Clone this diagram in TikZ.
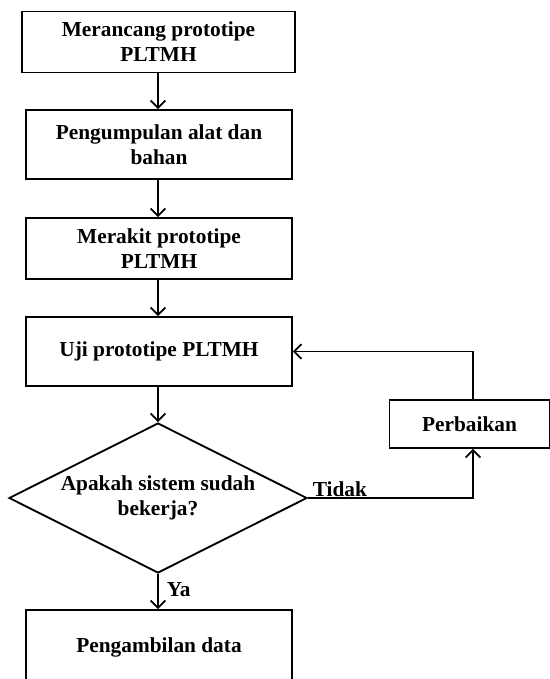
\documentclass[tikz,border=0pt]{standalone}
\usepackage{fontspec}
\setmainfont{Liberation Serif}
\usetikzlibrary{shapes.geometric, arrows.meta}

\begin{document}
\begin{tikzpicture}[x=0.75pt, y=-0.75pt, line width=1.4pt,
    >={Straight Barb[length=5.5pt, width=11pt, line width=1.3pt]},
    txt/.style={font=\fontsize{16}{18.75}\selectfont\bfseries, align=center},
    stepbox/.style={txt, rectangle, draw, inner sep=0pt, minimum width=199.5pt},
    decision/.style={txt, diamond, draw, aspect=2, inner sep=0pt, minimum width=223.5pt, minimum height=112.5pt}]
    \clip (0, 0) rectangle (550, 679);
    \node[stepbox, minimum width=204.75pt, minimum height=45.75pt] (design) at (158.5, 42) {Merancang prototipe\\PLTMH};
    \node[stepbox, minimum height=51.75pt] (collect) at (159, 144.5) {Pengumpulan alat dan\\bahan};
    \node[stepbox, minimum height=45.75pt] (build) at (159, 248.5) {Merakit prototipe\\PLTMH};
    \node[stepbox, minimum height=51.75pt] (test) at (159, 351.5) {Uji prototipe PLTMH};
    \node[decision] (check) at (158, 498) {Apakah sistem sudah\\bekerja?};
    \node[stepbox, minimum width=120pt, minimum height=36pt] (fix) at (469.5, 424) {Perbaikan};
    \node[stepbox, minimum height=55.5pt] (data) at (159, 647) {Pengambilan data};
    \draw[->] (design.south -| 158, 0) -- (collect.north -| 158, 0);
    \draw[->] (collect.south -| 158, 0) -- (build.north -| 158, 0);
    \draw[->] (build.south -| 158, 0) -- (test.north -| 158, 0);
    \draw[->] (test.south -| 158, 0) -- (check.north);
    \draw[->] (check.south) -- (data.north -| 158, 0) node[txt, pos=0.45, right, inner sep=6pt] (yes) {Ya};
    \coordinate (turn) at (473, 498);
    \draw[->] (check.east) -- (turn) node[txt, pos=0.02, above right, inner sep=0.5pt] (no) {Tidak} -- (turn |- fix.south);
    \draw[->] (turn |- fix.north) |- (test.east);
\end{tikzpicture}
\end{document}
